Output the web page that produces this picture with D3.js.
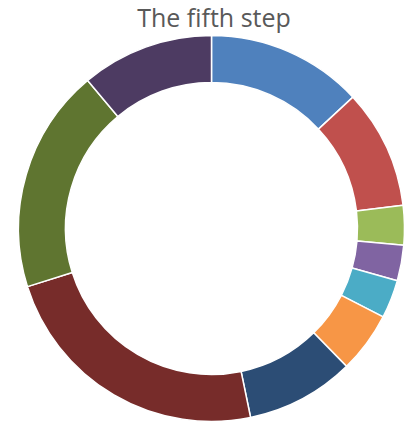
<!DOCTYPE html>
<html><head><meta charset="utf-8">
<script src="https://cdn.jsdelivr.net/npm/d3@7"></script>
<style>body{margin:0;background:#fff}svg{display:block}</style>
</head><body>
<svg id="c" width="420" height="423"></svg>
<script>
const title = "The fifth step";
const categories = ["1","2","3","4","5","6","7","8","9","10"];
const values = [13.1, 10.0, 3.3, 3.0, 3.2, 5.1, 9.1, 23.4, 18.8, 11.1];
const colors = ["#4F81BD","#C0504D","#9BBB59","#8064A2","#4BACC6","#F79646","#2C4D75","#772C2A","#5F7530","#4D3B62"];

const svg = d3.select("#c");
const cx = 211.5, cy = 228.5, rOuter = 193, rInner = 146;
const pie = d3.pie().sort(null).value(d => d.v);
const arc = d3.arc().innerRadius(rInner).outerRadius(rOuter);
const data = categories.map((c,i)=>({c, v: values[i], col: colors[i]}));
svg.append("g").attr("transform",`translate(${cx},${cy})`)
  .selectAll("path").data(pie(data)).join("path")
  .attr("d", arc).attr("fill", d=>d.data.col)
  .attr("stroke","#fff").attr("stroke-width",1.5).attr("stroke-linejoin","round");
svg.append("text").attr("x",214).attr("y",27).attr("text-anchor","middle")
  .attr("font-family","'Open Sans', sans-serif").attr("font-size",25).attr("fill","#595959")
  .text(title);
</script>
</body></html>
